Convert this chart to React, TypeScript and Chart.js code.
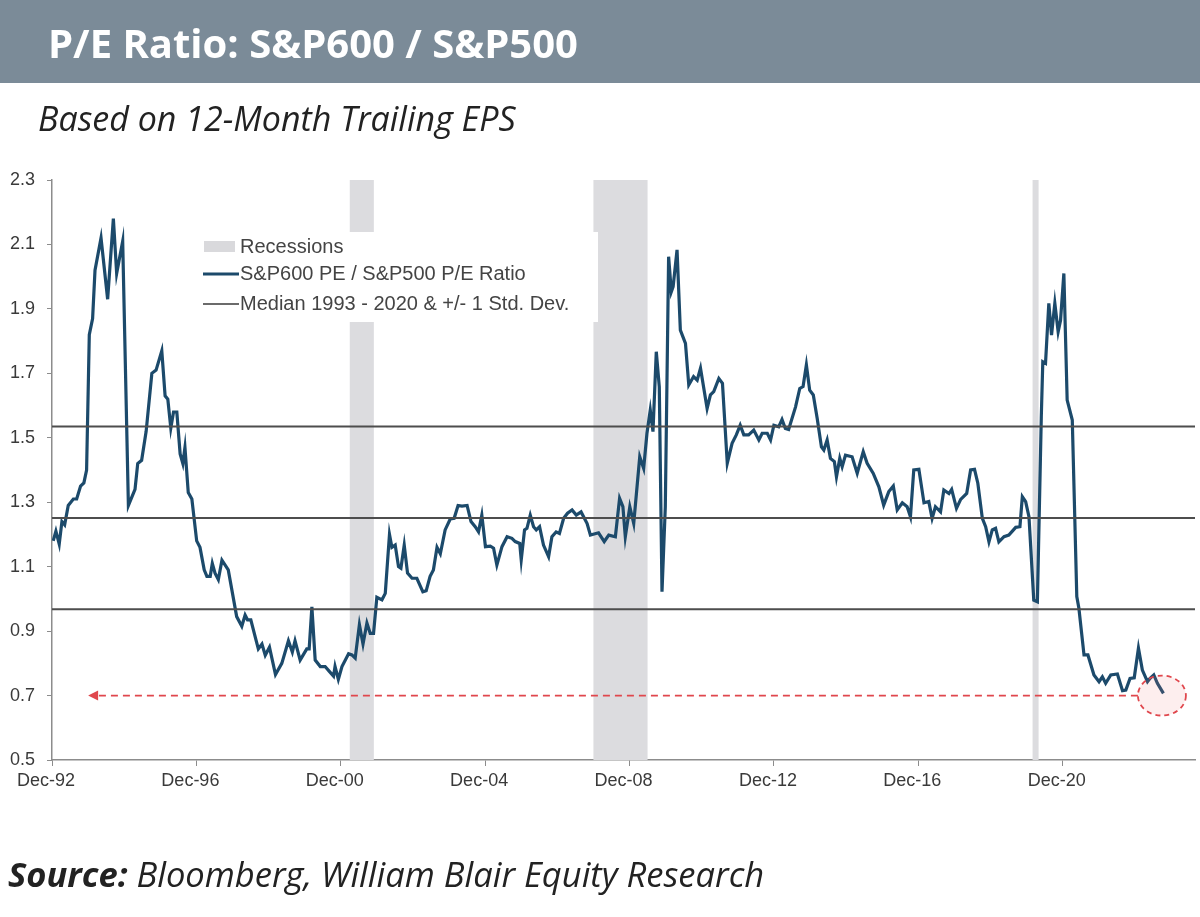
import React, { useEffect, useRef } from 'react';
import { Chart, registerables } from 'chart.js';

Chart.register(...registerables);

// Months elapsed since Dec-1992
const months = [
  0.4, 1.3, 2.4, 3.3, 4.2, 5.4, 7.1, 8.2, 9.5, 10.6,
  11.5, 12.4, 13.5, 14.3, 16.3, 18.5, 20.4, 21.5, 23.5, 25.4,
  27.6, 28.5, 29.8, 31.3, 33.2, 34.6, 36.5, 37.6, 38.5, 39.5,
  40.4, 41.5, 42.6, 43.5, 44.2, 45.3, 46.5, 48.1, 49.2, 50.6,
  51.5, 52.6, 53.3, 54.2, 55.3, 56.5, 58.6, 61.4, 63.1, 64.2,
  65.0, 66.1, 67.9, 68.6, 69.8, 70.9, 72.3, 74.3, 76.4, 78.6,
  79.9, 80.8, 82.5, 84.7, 85.5, 86.4, 87.5, 89.2, 90.8, 92.2,
  93.6, 94.1, 95.2, 96.4, 98.6, 99.7, 100.8, 102.2, 103.4, 104.7,
  105.8, 106.9, 108.0, 109.7, 110.8, 112.2, 113.0, 114.1, 115.2, 116.0,
  117.1, 118.2, 119.7, 121.3, 123.3, 124.4, 125.7, 126.8, 128.0, 129.1,
  130.7, 132.4, 133.7, 135.0, 136.3, 138.0, 139.3, 140.7, 141.8, 142.9,
  144.1, 145.7, 146.8, 147.9, 149.6, 151.3, 152.9, 154.0, 155.5, 156.0,
  157.1, 157.9, 159.0, 160.1, 161.0, 162.1, 163.4, 165.1, 166.2, 167.6,
  168.7, 170.1, 171.4, 172.9, 174.3, 175.9, 177.9, 179.0, 181.7, 183.6,
  185.1, 187.3, 188.7, 189.8, 190.6, 192.1, 193.4, 195.4, 196.7, 197.8,
  198.9, 199.8, 200.9, 201.9, 202.8, 203.9, 205.0, 205.9, 206.5, 207.8,
  208.9, 210.6, 211.7, 213.3, 214.5, 215.6, 217.8, 218.9, 220.0, 221.7,
  222.9, 224.5, 226.1, 227.5, 228.8, 230.0, 231.6, 233.3, 235.0, 236.1,
  237.8, 238.9, 240.0, 241.6, 242.7, 243.8, 244.9, 247.2, 248.6, 249.7,
  250.8, 251.9, 253.1, 254.4, 255.8, 256.6, 257.7, 258.8, 260.1, 260.8,
  261.9, 262.7, 263.8, 266.0, 267.7, 269.7, 271.0, 273.0, 274.9, 276.5,
  278.2, 279.7, 281.0, 282.7, 284.3, 285.4, 286.5, 288.2, 289.9, 291.5,
  292.6, 293.7, 295.4, 296.5, 298.2, 299.1, 300.7, 302.1, 304.1, 305.4,
  306.7, 307.8, 309.3, 310.4, 311.5, 312.6, 313.7, 314.8, 316.5, 318.1,
  320.4, 321.8, 322.6, 323.7, 324.8, 326.4, 327.6, 328.9, 329.4, 330.3,
  331.4, 332.3, 333.4, 334.5, 335.3, 336.4, 337.5, 339.2, 340.7, 341.4,
  343.1, 344.4, 346.4, 348.1, 349.2, 350.3, 352.0, 354.2, 355.9, 357.0,
  358.4, 359.8, 361.2, 362.5, 364.2, 365.0, 366.3, 367.5, 369.5,
];

// S&P600 P/E divided by S&P500 P/E
const ratio = [
  1.18, 1.21, 1.17, 1.24, 1.23, 1.29, 1.31, 1.31, 1.35, 1.36,
  1.40, 1.82, 1.87, 2.02, 2.12, 1.93, 2.18, 2.01, 2.11, 1.29,
  1.34, 1.42, 1.43, 1.52, 1.70, 1.71, 1.77, 1.63, 1.62, 1.53,
  1.58, 1.58, 1.45, 1.42, 1.47, 1.33, 1.31, 1.18, 1.16, 1.09,
  1.07, 1.07, 1.11, 1.08, 1.06, 1.12, 1.09, 0.945, 0.915, 0.95,
  0.935, 0.935, 0.87, 0.845, 0.86, 0.825, 0.85, 0.765, 0.80, 0.87,
  0.835, 0.87, 0.81, 0.845, 0.845, 0.975, 0.81, 0.79, 0.79, 0.775,
  0.76, 0.79, 0.75, 0.79, 0.83, 0.826, 0.816, 0.92, 0.86, 0.925,
  0.893, 0.893, 1.005, 0.997, 1.017, 1.20, 1.16, 1.167, 1.10, 1.095,
  1.167, 1.08, 1.064, 1.064, 1.022, 1.025, 1.07, 1.09, 1.16, 1.14,
  1.214, 1.248, 1.25, 1.29, 1.288, 1.29, 1.24, 1.224, 1.208, 1.26,
  1.162, 1.164, 1.157, 1.105, 1.162, 1.193, 1.188, 1.178, 1.172, 1.121,
  1.214, 1.219, 1.26, 1.224, 1.214, 1.224, 1.167, 1.131, 1.193, 1.208,
  1.203, 1.25, 1.266, 1.276, 1.26, 1.27, 1.234, 1.198, 1.205, 1.178,
  1.198, 1.193, 1.312, 1.286, 1.193, 1.286, 1.234, 1.441, 1.405, 1.514,
  1.586, 1.519, 1.767, 1.658, 1.022, 1.286, 2.062, 1.953, 1.969, 2.083,
  1.834, 1.793, 1.664, 1.69, 1.679, 1.716, 1.591, 1.633, 1.643, 1.684,
  1.669, 1.421, 1.483, 1.509, 1.539, 1.509, 1.509, 1.524, 1.493, 1.514,
  1.514, 1.493, 1.539, 1.534, 1.557, 1.529, 1.526, 1.596, 1.653, 1.659,
  1.726, 1.648, 1.633, 1.56, 1.472, 1.462, 1.493, 1.436, 1.426, 1.379,
  1.436, 1.41, 1.446, 1.441, 1.39, 1.457, 1.421, 1.39, 1.348, 1.291,
  1.333, 1.35, 1.276, 1.298, 1.286, 1.255, 1.40, 1.402, 1.298, 1.302,
  1.25, 1.286, 1.27, 1.338, 1.327, 1.34, 1.281, 1.309, 1.327, 1.40,
  1.402, 1.359, 1.25, 1.224, 1.177, 1.214, 1.219, 1.177, 1.193, 1.198,
  1.222, 1.224, 1.317, 1.302, 1.255, 0.996, 0.991, 1.565, 1.736, 1.731,
  1.917, 1.819, 1.917, 1.829, 1.865, 2.01, 1.617, 1.555, 1.007, 0.971,
  0.826, 0.826, 0.764, 0.743, 0.758, 0.738, 0.764, 0.767, 0.715, 0.717,
  0.753, 0.755, 0.847, 0.779, 0.743, 0.753, 0.764, 0.738, 0.707,
];

// Median 1993-2020 and +/- 1 standard deviation
const medianLevels = [1.535, 1.251, 0.968];

// Recessions (months since Dec-1992)
const recessionStart = [99, 180, 326];
const recessionEnd = [107, 198, 328];

const xTickMonths = [0, 48, 96, 144, 192, 240, 288, 336];
const xTickLabels = ['Dec-92', 'Dec-96', 'Dec-00', 'Dec-04', 'Dec-08', 'Dec-12', 'Dec-16', 'Dec-20'];
const yTickValues = [0.5, 0.7, 0.9, 1.1, 1.3, 1.5, 1.7, 1.9, 2.1, 2.3];
const xMin = 0;
const xMax = 380;

// Current level marker (red dashed arrow + circle)
const currentLevel = 0.7;
const arrowFromMonth = 369;
const arrowToMonth = 12;

const legendLabels = [
  'Recessions',
  'S&P600 PE / S&P500 P/E Ratio',
  'Median 1993 - 2020 & +/- 1 Std. Dev.',
];

const LINE_COLOR = '#1c4a6b';
const MEDIAN_COLOR = '#4d4d4d';
const RECESSION_COLOR = '#dcdcdf';
const RED = '#e0474d';
const AXIS_COLOR = '#8c8c8c';
const TEXT_COLOR = '#3a3a3a';
const CHART_FONT = '"Liberation Sans", Arial, sans-serif';

const overlayPlugin = {
  id: 'overlay',
  beforeDatasetsDraw(chart: any) {
    const { ctx, chartArea: a, scales } = chart;
    const x = scales.x;
    ctx.save();
    ctx.fillStyle = RECESSION_COLOR;
    recessionStart.forEach((s, i) => {
      const x0 = x.getPixelForValue(s);
      const x1 = x.getPixelForValue(recessionEnd[i]);
      ctx.fillRect(x0, a.top, x1 - x0, a.bottom - a.top);
    });
    // legend background box
    ctx.fillStyle = '#ffffff';
    ctx.fillRect(a.left + 135, a.top + 52, 411, 90);
    ctx.restore();
  },
  afterDatasetsDraw(chart: any) {
    const { ctx, chartArea: a, scales } = chart;
    const x = scales.x;
    const y = scales.y;
    ctx.save();
    // ellipse around the latest value
    const cx = x.getPixelForValue(arrowFromMonth);
    const cy = y.getPixelForValue(currentLevel);
    ctx.beginPath();
    ctx.ellipse(cx, cy, 24, 20, 0, 0, Math.PI * 2);
    ctx.fillStyle = 'rgba(236, 120, 120, 0.13)';
    ctx.fill();
    ctx.setLineDash([5, 4]);
    ctx.lineWidth = 1.8;
    ctx.strokeStyle = RED;
    ctx.stroke();
    // dashed arrow
    const tipX = x.getPixelForValue(arrowToMonth);
    ctx.beginPath();
    ctx.setLineDash([7, 5]);
    ctx.lineWidth = 1.8;
    ctx.moveTo(cx - 24, cy);
    ctx.lineTo(tipX + 9, cy);
    ctx.stroke();
    ctx.setLineDash([]);
    ctx.beginPath();
    ctx.moveTo(tipX, cy);
    ctx.lineTo(tipX + 10, cy - 5);
    ctx.lineTo(tipX + 10, cy + 5);
    ctx.closePath();
    ctx.fillStyle = RED;
    ctx.fill();

    // legend
    const lx = a.left + 151;
    const tx = a.left + 188;
    const rows = [a.top + 67, a.top + 94, a.top + 124];
    ctx.fillStyle = '#d9d9dc';
    ctx.fillRect(lx + 1, rows[0] - 6, 31, 11);
    ctx.beginPath();
    ctx.strokeStyle = LINE_COLOR;
    ctx.lineWidth = 3;
    ctx.moveTo(lx, rows[1]);
    ctx.lineTo(lx + 36, rows[1]);
    ctx.stroke();
    ctx.beginPath();
    ctx.strokeStyle = '#3a3a3a';
    ctx.lineWidth = 1.5;
    ctx.moveTo(lx, rows[2]);
    ctx.lineTo(lx + 36, rows[2]);
    ctx.stroke();
    ctx.font = `20px ${CHART_FONT}`;
    ctx.fillStyle = '#444444';
    ctx.textBaseline = 'middle';
    ctx.textAlign = 'left';
    legendLabels.forEach((t, i) => ctx.fillText(t, tx, rows[i]));
    ctx.restore();
  },
};

export default function App() {
  const canvasRef = useRef<HTMLCanvasElement | null>(null);

  useEffect(() => {
    document.body.style.margin = '0';
    const canvas = canvasRef.current;
    if (!canvas) return;
    const seriesData = months.map((m, i) => ({ x: m, y: ratio[i] }));
    const medianSets = medianLevels.map((lv) => ({
      label: 'median',
      data: [
        { x: xMin, y: lv },
        { x: xMax, y: lv },
      ],
      borderColor: MEDIAN_COLOR,
      borderWidth: 2,
      pointRadius: 0,
      fill: false,
    }));
    const chart = new Chart(canvas, {
      type: 'line',
      data: {
        datasets: [
          ...medianSets,
          {
            label: legendLabels[1],
            data: seriesData,
            borderColor: LINE_COLOR,
            borderWidth: 3.2,
            pointRadius: 0,
            tension: 0,
            fill: false,
          },
        ],
      },
      options: {
        responsive: false,
        animation: false,
        devicePixelRatio: 1,
        layout: { padding: { left: 0, right: 5, top: 180, bottom: 117 } },
        plugins: {
          legend: { display: false },
          tooltip: { enabled: false },
          title: { display: false },
        },
        scales: {
          x: {
            type: 'linear',
            min: xMin,
            max: xMax,
            afterBuildTicks: (axis: any) => {
              axis.ticks = xTickMonths.map((v) => ({ value: v }));
            },
            afterFit: (axis: any) => {
              axis.height = 40;
            },
            ticks: {
              autoSkip: false,
              maxRotation: 0,
              padding: 4,
              labelOffset: -6,
              color: TEXT_COLOR,
              font: { family: CHART_FONT, size: 18 },
              callback: (v: any) => {
                const i = xTickMonths.indexOf(Number(v));
                return i >= 0 ? xTickLabels[i] : '';
              },
            },
            grid: { drawOnChartArea: false, drawTicks: true, tickLength: 6, color: AXIS_COLOR },
            border: { color: AXIS_COLOR, width: 1.5 },
          },
          y: {
            type: 'linear',
            min: 0.5,
            max: 2.3,
            afterBuildTicks: (axis: any) => {
              axis.ticks = yTickValues.map((v) => ({ value: v }));
            },
            afterFit: (axis: any) => {
              axis.width = 52;
            },
            ticks: {
              padding: 12,
              color: TEXT_COLOR,
              font: { family: CHART_FONT, size: 18 },
              callback: (v: any) => Number(v).toFixed(1),
            },
            grid: { drawOnChartArea: false, drawTicks: true, tickLength: 5, color: AXIS_COLOR },
            border: { color: AXIS_COLOR, width: 1.5 },
          },
        },
      },
      plugins: [overlayPlugin],
    });
    return () => chart.destroy();
  }, []);

  return (
    <div style={{ position: 'absolute', left: 0, top: 0, width: 1200, height: 917, background: '#ffffff', overflow: 'hidden' }}>
      <div style={{ position: 'absolute', left: 0, top: 0, width: 1200, height: 83, background: '#7b8b98' }} />
      <canvas
        ref={canvasRef}
        width={1200}
        height={917}
        style={{ position: 'absolute', left: 0, top: 0, width: 1200, height: 917 }}
      />
      <div
        style={{
          position: 'absolute',
          left: 48,
          top: 23,
          fontFamily: '"Open Sans", sans-serif',
          fontWeight: 700,
          fontSize: 40,
          lineHeight: '40px',
          color: '#ffffff',
          whiteSpace: 'nowrap',
        }}
      >
        P/E Ratio: S&amp;P600 / S&amp;P500
      </div>
      <div
        style={{
          position: 'absolute',
          left: 38,
          top: 101,
          fontFamily: '"Open Sans", sans-serif',
          fontStyle: 'italic',
          fontSize: 34,
          lineHeight: '34px',
          color: '#222222',
          whiteSpace: 'nowrap',
        }}
      >
        Based on 12-Month Trailing EPS
      </div>
      <div
        style={{
          position: 'absolute',
          left: 8,
          top: 857,
          fontFamily: '"Open Sans", sans-serif',
          fontStyle: 'italic',
          fontSize: 34.5,
          lineHeight: '34.5px',
          color: '#222222',
          whiteSpace: 'nowrap',
        }}
      >
        <span style={{ fontWeight: 700 }}>Source:</span> Bloomberg, William Blair Equity Research
      </div>
    </div>
  );
}
